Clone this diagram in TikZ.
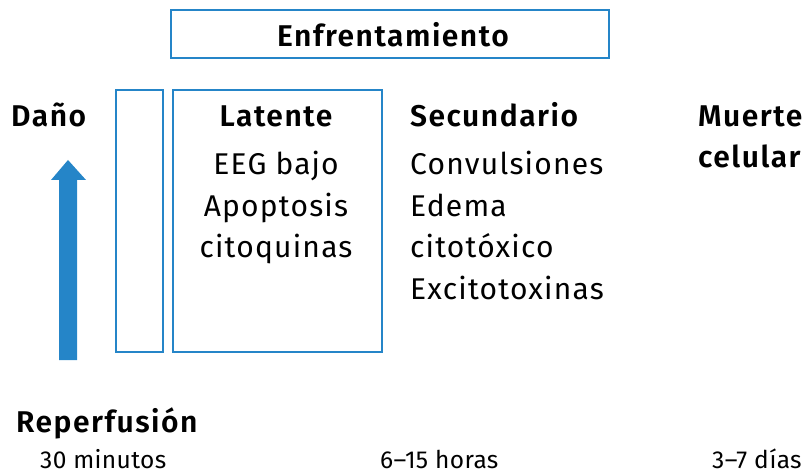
\documentclass[tikz,border=0pt]{standalone}
\usepackage{fontspec}
\setmainfont{Fira Sans}
\newfontfamily\bodyfont[LetterSpace=4]{Fira Sans}
\newfontfamily\boldfont[LetterSpace=5,UprightFont=* SemiBold]{Fira Sans}
\newfontfamily\smallfont[LetterSpace=1.5]{Fira Sans}
\definecolor{bl}{HTML}{2585C8}
\begin{document}
\begin{tikzpicture}[x=1pt,y=-1pt,
  box/.style={draw=bl,line width=2.5pt},
  tt/.style={inner sep=0pt,font=\boldfont\fontsize{30}{36}\selectfont},
  tx/.style={inner sep=0pt,font=\bodyfont\fontsize{30}{36}\selectfont},
  sm/.style={inner sep=0pt,text depth=0pt,font=\smallfont\fontsize{24.5}{28}\selectfont}]
\useasboundingbox (0,0) rectangle (809,473);
\draw[box] (171,10) rectangle (609,58);
\node[tt,anchor=base] (enf) at (393,47) {Enfrentamiento};
\draw[box] (116,90) rectangle (163,352);
\draw[box] (173,90) rectangle (382,352);
\node[tt,anchor=base west] (dano) at (11,127) {Daño};
\node[tt,anchor=base] (lat) at (276,127) {Latente};
\node[tx,anchor=base] (l1) at (276,175) {EEG bajo};
\node[tx,anchor=base] (l2) at (276,217) {Apoptosis};
\node[tx,anchor=base] (l3) at (276,258) {citoquinas};
\node[tt,anchor=base west] (sec) at (410,127) {Secundario};
\node[tx,anchor=base west] (s1) at (410,175) {Convulsiones};
\node[tx,anchor=base west] (s2) at (410,217) {Edema};
\node[tx,anchor=base west] (s3) at (410,258) {citotóxico};
\node[tx,anchor=base west] (s4) at (410,299) {Excitotoxinas};
\node[tt,anchor=base west] (m1) at (698,127) {Muerte};
\node[tt,anchor=base west] (m2) at (698,168) {celular};
\fill[bl] (59,360) -- (77,360) -- (77,180) -- (86,180) -- (68,160) -- (51,180) -- (59,180) -- cycle;
\node[tt,anchor=base west] (rep) at (16,432) {Reperfusión};
\node[sm,anchor=base west] (t1) at (40,468) {30 minutos};
\node[sm,anchor=base west] (t2) at (380,468) {6–15 horas};
\node[sm,anchor=base west] (t3) at (712,468) {3–7 días};
\end{tikzpicture}
\end{document}
